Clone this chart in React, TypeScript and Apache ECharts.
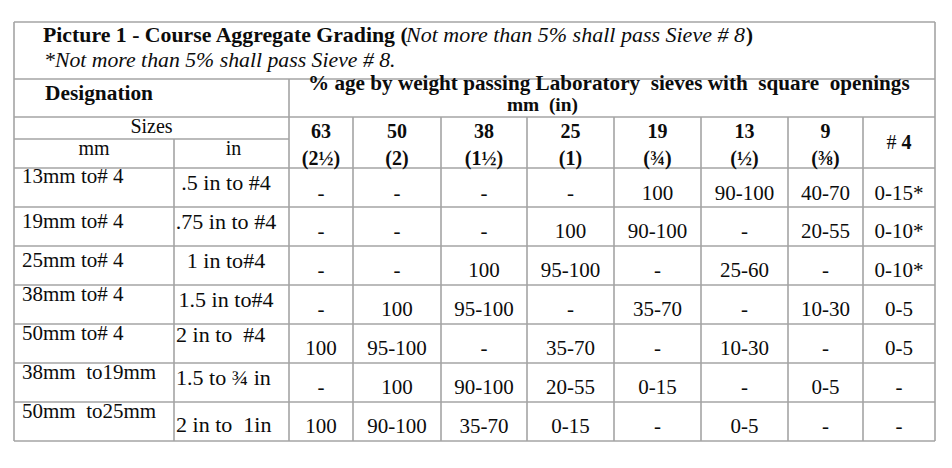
import React, { useEffect, useRef } from "react";
import * as echarts from "echarts";

const titleBold = "Picture 1 - Course Aggregate Grading (";
const titleItalic = "Not more than 5% shall pass Sieve # 8";
const titleClose = ")";
const noteText = "*Not more than 5% shall pass Sieve # 8.";
const designationText = "Designation";
const headerText = "% age by weight passing Laboratory  sieves with  square  openings";
const headerUnit = "mm  (in)";
const sizesLabel = "Sizes";
const unitMm = "mm";
const unitIn = "in";

const sieveMm = ["63", "50", "38", "25", "19", "13", "9", "# 4"];
const sieveIn = ["(2½)", "(2)", "(1½)", "(1)", "(¾)", "(½)", "(⅜)", ""];

const sizesMm = ["13mm to# 4", "19mm to# 4", "25mm to# 4", "38mm to# 4", "50mm to# 4", "38mm  to19mm", "50mm  to25mm"];
const sizesIn = [".5 in to #4", ".75 in to #4", "1 in to#4", "1.5 in to#4", "2 in to  #4", "1.5 to ¾ in", "2 in to  1in"];

const row13mm = ["-", "-", "-", "-", "100", "90-100", "40-70", "0-15*"];
const row19mm = ["-", "-", "-", "100", "90-100", "-", "20-55", "0-10*"];
const row25mm = ["-", "-", "100", "95-100", "-", "25-60", "-", "0-10*"];
const row38mm = ["-", "100", "95-100", "-", "35-70", "-", "10-30", "0-5"];
const row50mm = ["100", "95-100", "-", "35-70", "-", "10-30", "-", "0-5"];
const row38to19 = ["-", "100", "90-100", "20-55", "0-15", "-", "0-5", "-"];
const row50to25 = ["100", "90-100", "35-70", "0-15", "-", "0-5", "-", "-"];
const gradingRows = [row13mm, row19mm, row25mm, row38mm, row50mm, row38to19, row50to25];

const FONT = "Liberation Serif";
const INK = "#0c0c0c";
const LINE = "#a4a4a4";

function measure(t: string, size: number, bold = false, italic = false): number {
  const el = new (echarts.graphic as any).Text({
    style: {
      text: t,
      fontFamily: FONT,
      fontSize: size,
      fontWeight: bold ? "bold" : "normal",
      fontStyle: italic ? "italic" : "normal",
    },
  });
  return el.getBoundingRect().width;
}

export default function App() {
  const ref = useRef<HTMLDivElement>(null);
  useEffect(() => {
    if (!ref.current) return;
    const chart = echarts.init(ref.current, null, { renderer: "svg" });

    const colX = [14, 174, 289, 353, 441, 527, 614, 701, 788, 863, 935];
    const rowY = [168, 207, 246, 285, 324, 363, 402, 441];
    const top = 22;
    const els: any[] = [];
    const line = (x1: number, y1: number, x2: number, y2: number) =>
      els.push({ type: "line", shape: { x1, y1, x2, y2 }, style: { stroke: LINE, lineWidth: 1.6 }, silent: true });
    const text = (t: string, x: number, y: number, opts: any = {}) =>
      els.push({
        type: "text",
        x,
        y,
        scaleX: opts.scaleX ?? 1,
        style: {
          text: t,
          fill: INK,
          fontFamily: FONT,
          fontSize: opts.size ?? 21,
          fontWeight: opts.bold ? "bold" : "normal",
          fontStyle: opts.italic ? "italic" : "normal",
          align: opts.align ?? "center",
          verticalAlign: "middle",
        },
        silent: true,
      });
    // fit a left-aligned text between x0 and x1 by horizontal scaling
    const fit = (t: string, x0: number, x1: number, y: number, size: number, bold = false, italic = false) => {
      const w = measure(t, size, bold, italic);
      const s = w > 0 ? (x1 - x0) / w : 1;
      text(t, x0, y, { size, bold, italic, align: "left", scaleX: s });
    };

    // grid lines
    line(colX[0], top, colX[10], top);
    line(colX[0], 79, colX[10], 79);
    line(colX[0], 117, colX[10], 117);
    line(colX[0], 139, colX[2], 139);
    rowY.forEach((y) => line(colX[0], y, colX[10], y));
    line(colX[0], top, colX[0], rowY[7]);
    line(colX[10], top, colX[10], rowY[7]);
    line(colX[2], 79, colX[2], rowY[7]);
    line(colX[1], 139, colX[1], rowY[7]);
    for (let c = 3; c < 10; c++) line(colX[c], 117, colX[c], rowY[7]);

    // title and note
    fit(titleBold, 43, 409, 35, 21, true);
    fit(titleItalic, 406, 745, 35, 21, false, true);
    text(titleClose, 746, 35, { size: 21, bold: true, align: "left" });
    fit(noteText, 44, 396, 60, 21, false, true);
    fit(designationText, 45, 153, 93, 20, true);
    fit(headerText, 308, 910, 83, 20.5, true);
    fit(headerUnit, 507, 578, 105, 19, true);

    text(sizesLabel, (colX[0] + colX[2]) / 2, 126, { size: 20 });
    text(unitMm, (colX[0] + colX[1]) / 2, 148, { size: 20 });
    text(unitIn, (colX[1] + colX[2]) / 2 + 2, 148, { size: 20 });

    sieveMm.forEach((s, i) => {
      const cx = (colX[i + 2] + colX[i + 3]) / 2;
      if (sieveIn[i]) {
        text(s, cx, 131, { bold: true, size: 20 });
        text(sieveIn[i], cx, 158, { bold: true, size: 20 });
      } else {
        els.push({
          type: "text",
          x: cx,
          y: 142,
          style: {
            text: "{r|#} {b|4}",
            fontFamily: FONT,
            fontSize: 20,
            align: "center",
            verticalAlign: "middle",
            rich: {
              r: { fontFamily: FONT, fontSize: 20, fill: INK },
              b: { fontFamily: FONT, fontSize: 20, fontWeight: "bold", fill: INK },
            },
          },
          silent: true,
        });
      }
    });

    const mmOffset = [8, 14, 14, 9, 9, 9, 9];
    const inOffset = [15, 15, 15, 15, 11, 15, 23];
    sizesMm.forEach((s, r) => text(s, 22, rowY[r] + mmOffset[r], { align: "left" }));
    sizesIn.forEach((s, r) => {
      if (r < 4) text(s, 226, rowY[r] + inOffset[r], { scaleX: 1.05 });
      else text(s, 176, rowY[r] + inOffset[r], { align: "left", scaleX: 1.05 });
    });

    gradingRows.forEach((row, r) => {
      row.forEach((v, c) => {
        const cx = (colX[c + 2] + colX[c + 3]) / 2;
        text(v, cx, rowY[r] + (r === 0 ? 25 : 24));
      });
    });

    chart.setOption({
      animation: false,
      backgroundColor: "#ffffff",
      graphic: { elements: els },
    });
    return () => chart.dispose();
  }, []);

  return <div ref={ref} style={{ position: "fixed", left: 0, top: 0, width: 952, height: 468, background: "#fff" }} />;
}
